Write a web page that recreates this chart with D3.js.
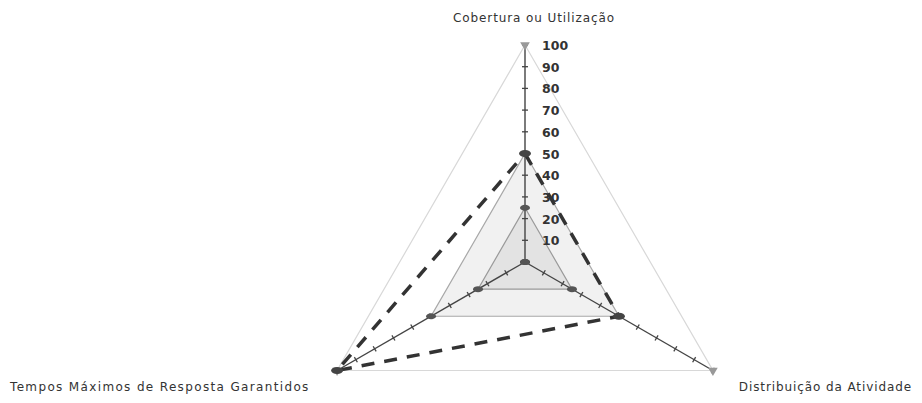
<!DOCTYPE html>
<html>
<head>
<meta charset="utf-8">
<script src="https://cdn.jsdelivr.net/npm/d3@7"></script>
<style>
  body { margin: 0; background: #fff; }
  .axisLabel { font-family: "DejaVu Sans", sans-serif; font-size: 12px; fill: #333; letter-spacing: 0.9px; }
  .tickLabel { font-family: "DejaVu Sans", sans-serif; font-size: 12.5px; font-weight: bold; fill: #333; }
</style>
</head>
<body>
<div id="radar"></div>
<script>
// Data
var axes = ["Cobertura ou Utilização", "Distribuição da Atividade", "Tempos Máximos de Resposta Garantidos"];
var tickValues = [10, 20, 30, 40, 50, 60, 70, 80, 90, 100];
var tickLabels = ["10", "20", "30", "40", "50", "60", "70", "80", "90", "100"];
var ring100 = [100, 100, 100];
var ring50 = [50, 50, 50];
var ring25 = [25, 25, 25];
var ring0 = [0, 0, 0];
var actual = [50, 50, 100];

var svgWidth = 922;
var svgHeight = 403;
var cx = 525, cy = 262;

var svg = d3.select("#radar")
  .append("svg")
  .attr("width", svgWidth)
  .attr("height", svgHeight);

var chartGroup = svg.append("g")
  .attr("transform", `translate(${cx}, ${cy})`);

var rScale = d3.scaleLinear().domain([0, 100]).range([0, 217]);
var angle = d3.scaleLinear().domain([0, axes.length]).range([0, 2 * Math.PI]);

var radar = d3.lineRadial()
  .angle((d, i) => angle(i))
  .radius(d => rScale(d))
  .curve(d3.curveLinearClosed);

function pt(i, v) {
  var a = angle(i);
  return [rScale(v) * Math.sin(a), -rScale(v) * Math.cos(a)];
}

// reference triangles
chartGroup.append("path").attr("d", radar(ring100))
  .attr("fill", "#fff").attr("stroke", "#d8d8d8").attr("stroke-width", 1.2);
chartGroup.append("path").attr("d", radar(ring50))
  .attr("fill", "#f1f1f1").attr("stroke", "#a8a8a8").attr("stroke-width", 1.2);
chartGroup.append("path").attr("d", radar(ring25))
  .attr("fill", "#e3e3e3").attr("stroke", "#9a9a9a").attr("stroke-width", 1.2);

// axes with tick marks
axes.forEach(function(name, i) {
  var end = pt(i, 100);
  chartGroup.append("line")
    .attr("x1", 0).attr("y1", 0)
    .attr("x2", end[0]).attr("y2", end[1])
    .attr("stroke", "#444").attr("stroke-width", 1.4);
  var a = angle(i);
  var px = Math.cos(a) * 3, py = Math.sin(a) * 3;
  chartGroup.selectAll(".tick" + i)
    .data(tickValues)
    .enter()
    .append("line")
    .attr("x1", d => pt(i, d)[0] - px)
    .attr("y1", d => pt(i, d)[1] - py)
    .attr("x2", d => pt(i, d)[0] + px)
    .attr("y2", d => pt(i, d)[1] + py)
    .attr("stroke", "#444").attr("stroke-width", 1.3);
});

// tick labels on first axis
chartGroup.selectAll(".tickLabel")
  .data(tickValues)
  .enter()
  .append("text")
  .classed("tickLabel", true)
  .attr("x", 17)
  .attr("y", d => -rScale(d) + 5)
  .text((d, i) => tickLabels[i]);

// markers on reference rings
[ring50, ring25, ring0].forEach(function(ring) {
  chartGroup.selectAll(null)
    .data(ring)
    .enter()
    .append("ellipse")
    .attr("cx", (d, i) => pt(i, d)[0])
    .attr("cy", (d, i) => pt(i, d)[1])
    .attr("rx", 5).attr("ry", 3)
    .attr("fill", "#555");
});

// vertex markers of outer ring
chartGroup.selectAll(null)
  .data(ring100)
  .enter()
  .append("path")
  .attr("d", d3.symbol().type(d3.symbolTriangle).size(40))
  .attr("transform", (d, i) => `translate(${pt(i, d)[0]}, ${pt(i, d)[1]}) rotate(180)`)
  .attr("fill", "#999");

// actual series dashed
chartGroup.append("path").attr("d", radar(actual))
  .attr("fill", "none")
  .attr("stroke", "#333")
  .attr("stroke-width", 3.5)
  .attr("stroke-dasharray", "13,10");

chartGroup.selectAll(null)
  .data(actual)
  .enter()
  .append("ellipse")
  .attr("cx", (d, i) => pt(i, d)[0])
  .attr("cy", (d, i) => pt(i, d)[1])
  .attr("rx", 6).attr("ry", 3.5)
  .attr("fill", "#444");

// axis names
svg.append("text").classed("axisLabel", true)
  .attr("x", 534).attr("y", 22).attr("text-anchor", "middle")
  .text(axes[0]);
svg.append("text").classed("axisLabel", true)
  .attr("x", 912).attr("y", 391).attr("text-anchor", "end")
  .text(axes[1]);
svg.append("text").classed("axisLabel", true)
  .attr("x", 10).attr("y", 391).attr("text-anchor", "start")
  .style("letter-spacing", "1.35px")
  .text(axes[2]);
</script>
</body>
</html>
